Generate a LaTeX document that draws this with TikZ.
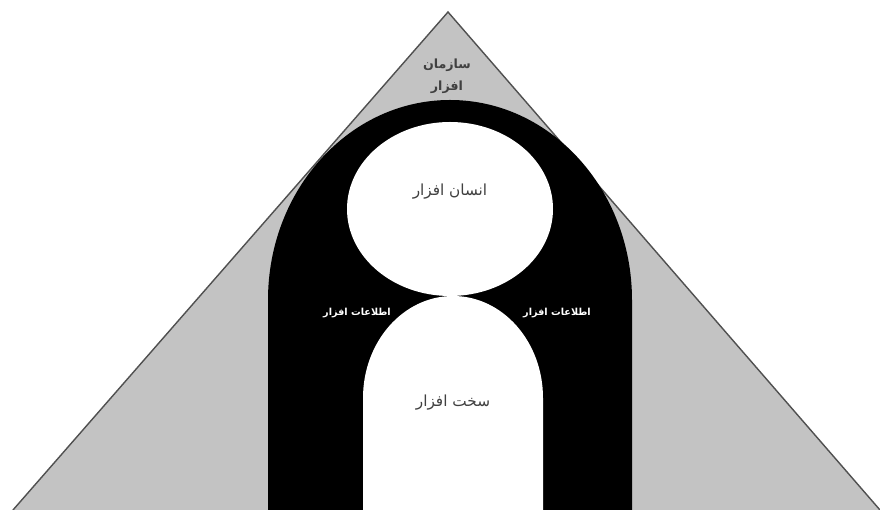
\documentclass[tikz,border=0pt]{standalone}
\usepackage{fontspec}
\newfontfamily\arabicfont[Script=Arabic]{DejaVu Sans}
\TeXXeTstate=1
\usetikzlibrary{positioning}
\definecolor{pyramidgray}{RGB}{195,195,195}
\definecolor{edgegray}{RGB}{80,80,80}
\definecolor{labelgray}{RGB}{64,64,64}
\tikzset{
  pyramid/.style={fill=pyramidgray, draw=none},
  pyramidedge/.style={draw=edgegray, line width=0.8pt},
  solid black/.style={fill=black, draw=none},
  solid white/.style={fill=white, draw=none},
  toplabel/.style={font=\arabicfont\bfseries\fontsize{7.2}{9}\selectfont, text=labelgray, inner sep=0pt},
  partlabel/.style={font=\arabicfont\fontsize{8.7}{11}\selectfont, text=labelgray, inner sep=0pt},
  infolabel/.style={font=\arabicfont\bfseries\fontsize{5.5}{7}\selectfont, text=white, inner sep=0pt}
}

\begin{document}
\begin{tikzpicture}[x=0.02cm, y=0.02cm]
  \useasboundingbox (0,0) rectangle (880,510);

  % pyramid
  \fill[pyramid] (13,0) -- (448,498) -- (880,0) -- cycle;
  \draw[pyramidedge] (13,0) -- (448,498) -- (880,0);

  % black arch, white ellipse and white arch
  \fill[solid black] (268,0) -- (268,210) arc[start angle=180, end angle=0, x radius=182, y radius=200] -- (632,0) -- cycle;
  \fill[solid white] (450,301) ellipse[x radius=103, y radius=87];
  \fill[solid white] (363,0) -- (363,112) arc[start angle=180, end angle=0, x radius=90, y radius=102] -- (543,0) -- cycle;

  % labels
  \node[toplabel] (org) at (447,445) {\beginR سازمان\endR};
  \node[toplabel, below=5pt of org] (orgsoft) {\beginR افزار\endR};
  \node[partlabel] (human) at (450,318) {\beginR انسان افزار\endR};
  \node[infolabel] (infoleft) at (357,197) {\beginR اطلاعات افزار\endR};
  \node[infolabel] (inforight) at (557,197) {\beginR اطلاعات افزار\endR};
  \node[partlabel] (hard) at (453,107) {\beginR سخت افزار\endR};
\end{tikzpicture}
\end{document}
